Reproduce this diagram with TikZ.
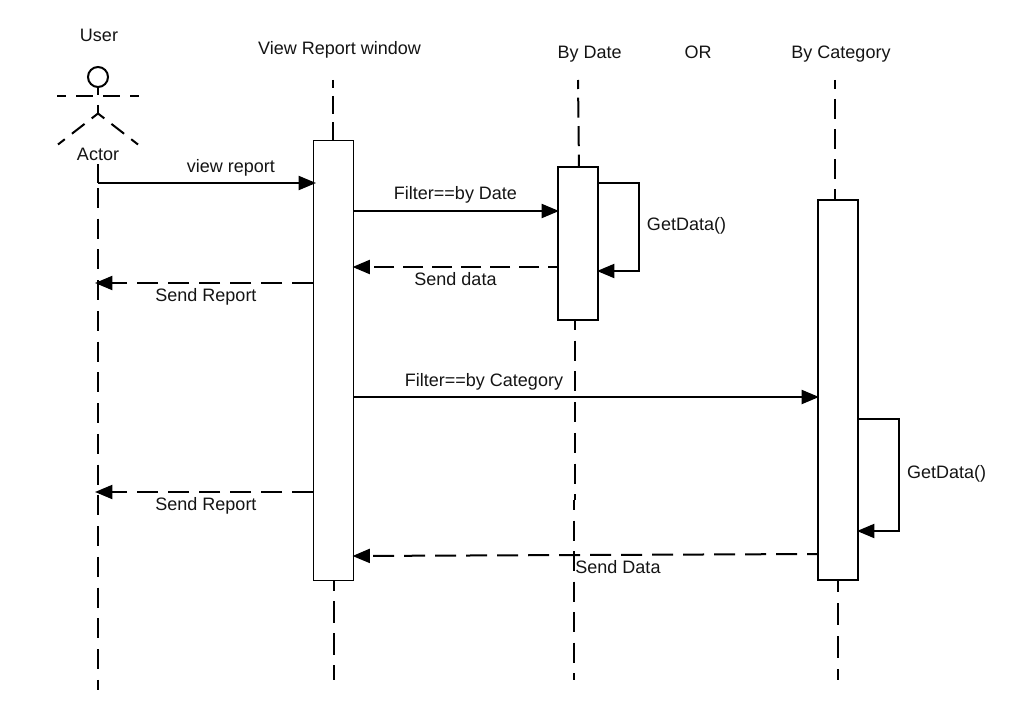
\documentclass[tikz,border=0pt]{standalone}
\usepackage{fontspec}
\setmainfont{Liberation Sans}
\usetikzlibrary{arrows.meta}
\tikzset{
  x=0.75pt,y=-0.75pt,
  lbl/.style={inner sep=0pt,anchor=base,font=\fontsize{13.5}{16}\selectfont,text=black!92},
  lifeln/.style={line width=1.5pt},
  bar/.style={draw,fill=white,inner sep=0pt,outer sep=0pt,anchor=north west},
  msg/.style={line width=1.5pt,-{Triangle[length=13pt,width=10.5pt]}},
  ret/.style={msg,dash pattern=on 15.75pt off 7.5pt}
}
\begin{document}
\begin{tikzpicture}
\useasboundingbox (0,0) rectangle (1028,710);
% lifelines
\coordinate (uTop) at (98,164); \coordinate (uMsg) at (98,183);
\coordinate (uDash) at (98,188); \coordinate (uBot) at (98,690);
\coordinate (vTop) at (333,80); \coordinate (vTopE) at (333,140);
\coordinate (vBot) at (334,580); \coordinate (vBotE) at (334,680);
\coordinate (dTop) at (578,80); \coordinate (dTopE) at (579,167);
\coordinate (dBot) at (575,320); \coordinate (dMid) at (575,500); \coordinate (dMid2) at (574,500); \coordinate (dBotE) at (574,680);
\coordinate (cTop) at (835,80); \coordinate (cTopE) at (835,200);
\coordinate (cBot) at (838,580); \coordinate (cBotE) at (838,680);
\draw[lifeln] (uTop) -- (uMsg);
\draw[lifeln,dash pattern=on 15pt off 8.06pt] (uDash) -- (uBot);
\draw[lifeln,dash pattern=on 13.5pt off 6pt,dash phase=7.5pt] (vTop) -- (vTopE);
\draw[lifeln,dash pattern=on 16.5pt off 7.5pt,dash phase=8.25pt] (vBot) -- (vBotE);
\draw[lifeln,dash pattern=on 15pt off 6.4pt,dash phase=8.25pt] (dTop) -- (dTopE);
\draw[lifeln,dash pattern=on 15pt off 8.06pt,dash phase=7.5pt] (dBot) -- (dMid);
\draw[lifeln,dash pattern=on 15pt off 7.9pt,dash phase=7.5pt] (dMid2) -- (dBotE);
\draw[lifeln,dash pattern=on 15pt off 7.5pt,dash phase=8.25pt] (cTop) -- (cTopE);
\draw[lifeln,dash pattern=on 16.5pt off 8.25pt,dash phase=7.5pt] (cBot) -- (cBotE);
% actor
\node[circle,draw,line width=1.5pt,minimum size=20*0.75pt,inner sep=0pt] (head) at (98,77) {};
\coordinate (neck) at (98,95);
\coordinate (armL) at (57,96); \coordinate (armR) at (139,96);
\coordinate (belly) at (98,105); \coordinate (hip) at (98,113.5);
\coordinate (legL) at (58,144.5); \coordinate (legR) at (138,144.5);
\draw[line width=1.5pt] (head.south) -- (neck);
\draw[line width=1.5pt,dash pattern=on 12.75pt off 7.5pt,dash phase=6pt] (armL) -- (armR);
\draw[line width=1.5pt] (belly) -- (hip);
\draw[line width=1.5pt,dash pattern=on 6pt off 6.75pt on 12pt off 6.75pt on 7pt off 9pt] (hip) -- (legL);
\draw[line width=1.5pt,dash pattern=on 6pt off 6.75pt on 12pt off 6.75pt on 7pt off 9pt] (hip) -- (legR);
% activation bars
\node[bar,line width=0.75pt,minimum width=40*0.75pt,minimum height=440*0.75pt] (view) at (313.5,140.5) {};
\node[bar,line width=1.5pt,minimum width=40*0.75pt,minimum height=153*0.75pt] (date) at (558,167) {};
\node[bar,line width=1.5pt,minimum width=40*0.75pt,minimum height=380*0.75pt] (cat) at (818,200) {};
% labels
\node[lbl] (lUser) at (99,41.5) {User};
\node[lbl] (lView) at (339.5,54.5) {View Report window};
\node[lbl] (lDate) at (589.7,59) {By Date};
\node[lbl] (lOr) at (698,59) {OR};
\node[lbl] (lCat) at (841,59) {By Category};
\node[lbl] (lActor) at (98,160) {Actor};
\node[lbl] (t1) at (231,172) {view report};
\node[lbl] (t2) at (455.5,199) {Filter==by Date};
\node[lbl] (t3) at (686.5,230) {GetData()};
\node[lbl] (t4) at (455.5,285) {Send data};
\node[lbl] (t5) at (206,301) {Send Report};
\node[lbl] (t6) at (484,386) {Filter==by Category};
\node[lbl] (t7) at (946.5,478.5) {GetData()};
\node[lbl] (t8) at (206,510) {Send Report};
\node[lbl] (t9) at (618,573) {Send Data};
% messages
\coordinate (m1a) at (98,183); \coordinate (m1b) at (316,183);
\coordinate (m2a) at (354,211); \coordinate (m2b) at (559,211);
\coordinate (m3a) at (558,267); \coordinate (m3b) at (352.5,267);
\coordinate (m4a) at (313,283); \coordinate (m4b) at (95,283);
\coordinate (m5a) at (354,397); \coordinate (m5b) at (819,397);
\coordinate (m6a) at (313,492); \coordinate (m6b) at (95,492);
\coordinate (m7a) at (818,554); \coordinate (m7b) at (352.5,556);
\coordinate (s1a) at (598,183); \coordinate (s1b) at (597,271);
\coordinate (s2a) at (858,419); \coordinate (s2b) at (857,531);
\draw[msg] (m1a) -- (m1b);
\draw[msg] (m2a) -- (m2b);
\draw[ret,dash pattern=on 15pt off 6.75pt,dash phase=7.5pt] (m3a) -- (m3b);
\draw[ret,dash phase=0pt] (m4a) -- (m4b);
\draw[msg] (m5a) -- (m5b);
\draw[ret,dash phase=0pt] (m6a) -- (m6b);
\draw[ret,dash phase=7.5pt] (m7a) -- (m7b);
\draw[msg] (s1a) -- (639,183) -- (639,271) -- (s1b);
\draw[msg] (s2a) -- (899,419) -- (899,531) -- (s2b);
\end{tikzpicture}
\end{document}
